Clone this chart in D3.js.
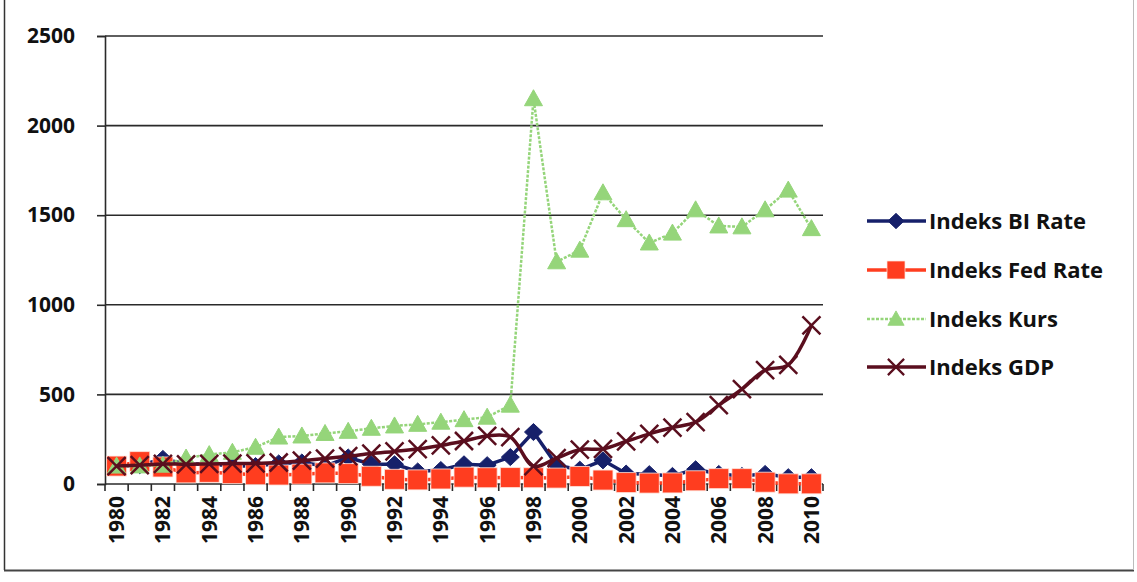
<!DOCTYPE html>
<html><head><meta charset="utf-8">
<script src="https://cdn.jsdelivr.net/npm/d3@7"></script>
<style>
body{margin:0;background:#fff}
svg{display:block}
text{font-family:'Open Sans','Liberation Sans',sans-serif;font-weight:bold;fill:#111}
</style>
</head><body>
<svg id="c" width="1137" height="582"></svg>
<script>
// ---- data ----
const years = [1980,1981,1982,1983,1984,1985,1986,1987,1988,1989,1990,1991,1992,1993,1994,1995,1996,1997,1998,1999,2000,2001,2002,2003,2004,2005,2006,2007,2008,2009,2010];
const biRate  = [100,105,140,112,112,100,100,115,120,100,148,110,110,70,78,110,105,150,290,105,80,132,58,55,45,82,56,45,56,38,38];
const fedRate = [100,125,95,62,65,58,52,50,55,62,58,43,26,23,28,38,35,36,35,33,42,22,8,5,6,18,30,30,10,1,1];
const kurs    = [100,101,105,145,164,177,205,262,268,282,294,311,324,333,345,359,373,440,2150,1240,1305,1625,1475,1345,1400,1530,1440,1435,1530,1640,1425];
const gdp     = [100,105,112,110,112,114,115,120,130,142,155,170,182,195,215,240,268,262,100,145,192,196,238,280,315,345,440,530,635,665,885];
const yTicks = [0,500,1000,1500,2000,2500];
const xLabels = years.filter((d,i)=>i%2===0);
const seriesNames = ["Indeks BI Rate","Indeks Fed Rate","Indeks Kurs","Indeks GDP"];

// ---- setup ----
const svg = d3.select("#c");
const L=105, R=823, T=36, B=484;
const x = d3.scalePoint().domain(years).range([L,R]).padding(0.5);
const band = d3.scaleBand().domain(years).range([L,R]);
const y = d3.scaleLinear().domain([0,2500]).range([B,T]);
const FONT = "'Open Sans','Liberation Sans',sans-serif";

// frame
svg.append("line").attr("x1",4.5).attr("x2",4.5).attr("y1",0).attr("y2",570).attr("stroke","#333").attr("stroke-width",1.5);
svg.append("line").attr("x1",4).attr("x2",1134).attr("y1",570.5).attr("y2",570.5).attr("stroke","#444").attr("stroke-width",2);
svg.append("line").attr("x1",1133.5).attr("x2",1133.5).attr("y1",0).attr("y2",570).attr("stroke","#bbb").attr("stroke-width",1);

// gridlines
svg.append("g").selectAll("line").data(yTicks).join("line")
  .attr("x1",L).attr("x2",R).attr("y1",d=>y(d)).attr("y2",d=>y(d))
  .attr("stroke","#2a2a2a").attr("stroke-width",1.6);

// y axis
const ya = svg.append("g").attr("transform",`translate(${L},0)`)
  .call(d3.axisLeft(y).tickValues(yTicks).tickSize(8).tickPadding(22).tickFormat(d3.format("d")));
ya.select(".domain").attr("stroke","#2a2a2a").attr("stroke-width",1.6);
ya.selectAll(".tick line").attr("stroke","#2a2a2a").attr("stroke-width",1.6);
ya.selectAll("text").style("font-size","21px").style("font-family",FONT).style("font-weight","bold").attr("fill","#111");

// x axis (ticks between categories)
const tickPos = years.map(d=>band(d)).concat([R]);
svg.append("g").selectAll("line").data(tickPos).join("line")
  .attr("x1",d=>d).attr("x2",d=>d).attr("y1",B).attr("y2",B+7)
  .attr("stroke","#2a2a2a").attr("stroke-width",1.6);
svg.append("g").selectAll("text").data(xLabels).join("text")
  .attr("transform",d=>`translate(${x(d)},496) rotate(-90)`)
  .attr("text-anchor","end").attr("dy","0.36em")
  .style("font-size","21px").text(d=>d);

// marker shapes
const shapes = {
  diamond: "M0,-8.5L9,0L0,8.5L-9,0Z",
  square: "M-10,-10H10V10H-10Z",
  triangle: "M0,-9L9,7L-9,7Z",
  cross: "M-9,-9L9,9M-9,9L9,-9"
};
const series = [
  {name:seriesNames[0], values:biRate, color:"#16206a", shape:"diamond", fill:true, width:3.5, dash:null, curve:d3.curveLinear},
  {name:seriesNames[1], values:fedRate, color:"#ff3d1f", shape:"square", fill:true, width:3.5, dash:null, curve:d3.curveLinear},
  {name:seriesNames[2], values:kurs, color:"#95d57a", shape:"triangle", fill:true, width:2.5, dash:"3,1.5", curve:d3.curveLinear},
  {name:seriesNames[3], values:gdp, color:"#5a0e1e", shape:"cross", fill:false, width:3.5, dash:null, curve:d3.curveCatmullRom.alpha(0.5)}
];

function drawMarker(g, s, cx, cy, scale){
  const p = g.append("path").attr("d", shapes[s.shape])
    .attr("transform",`translate(${cx},${cy}) scale(${scale||1})`);
  if (s.fill) {
    p.attr("fill", s.color).attr("stroke", s.shape==="square" ? "#ffe6de" : s.color)
     .attr("stroke-width", s.shape==="square" ? 0.8 : 1);
  } else {
    p.attr("fill","none").attr("stroke", s.color).attr("stroke-width",2.5);
  }
}

const plot = svg.append("g");
series.forEach(s=>{
  const g = plot.append("g");
  const line = d3.line().x((d,i)=>x(years[i])).y(d=>y(d)).curve(s.curve);
  g.append("path").datum(s.values).attr("d",line)
    .attr("fill","none").attr("stroke",s.color).attr("stroke-width",s.width)
    .attr("stroke-linejoin","round").attr("stroke-dasharray",s.dash);
  s.values.forEach((v,i)=>drawMarker(g, s, x(years[i]), y(v)));
});

// legend
const legY = [221,270,319,367];
const lg = svg.append("g");
series.forEach((s,i)=>{
  const cy = legY[i];
  lg.append("line").attr("x1",867).attr("x2",926).attr("y1",cy).attr("y2",cy)
    .attr("stroke",s.color).attr("stroke-width",s.width).attr("stroke-dasharray",s.dash);
  drawMarker(lg, s, 896, cy, 0.9);
  lg.append("text").attr("x",929).attr("y",cy).attr("dy","0.36em")
    .style("font-size","22px").text(s.name);
});
</script>
</body></html>
